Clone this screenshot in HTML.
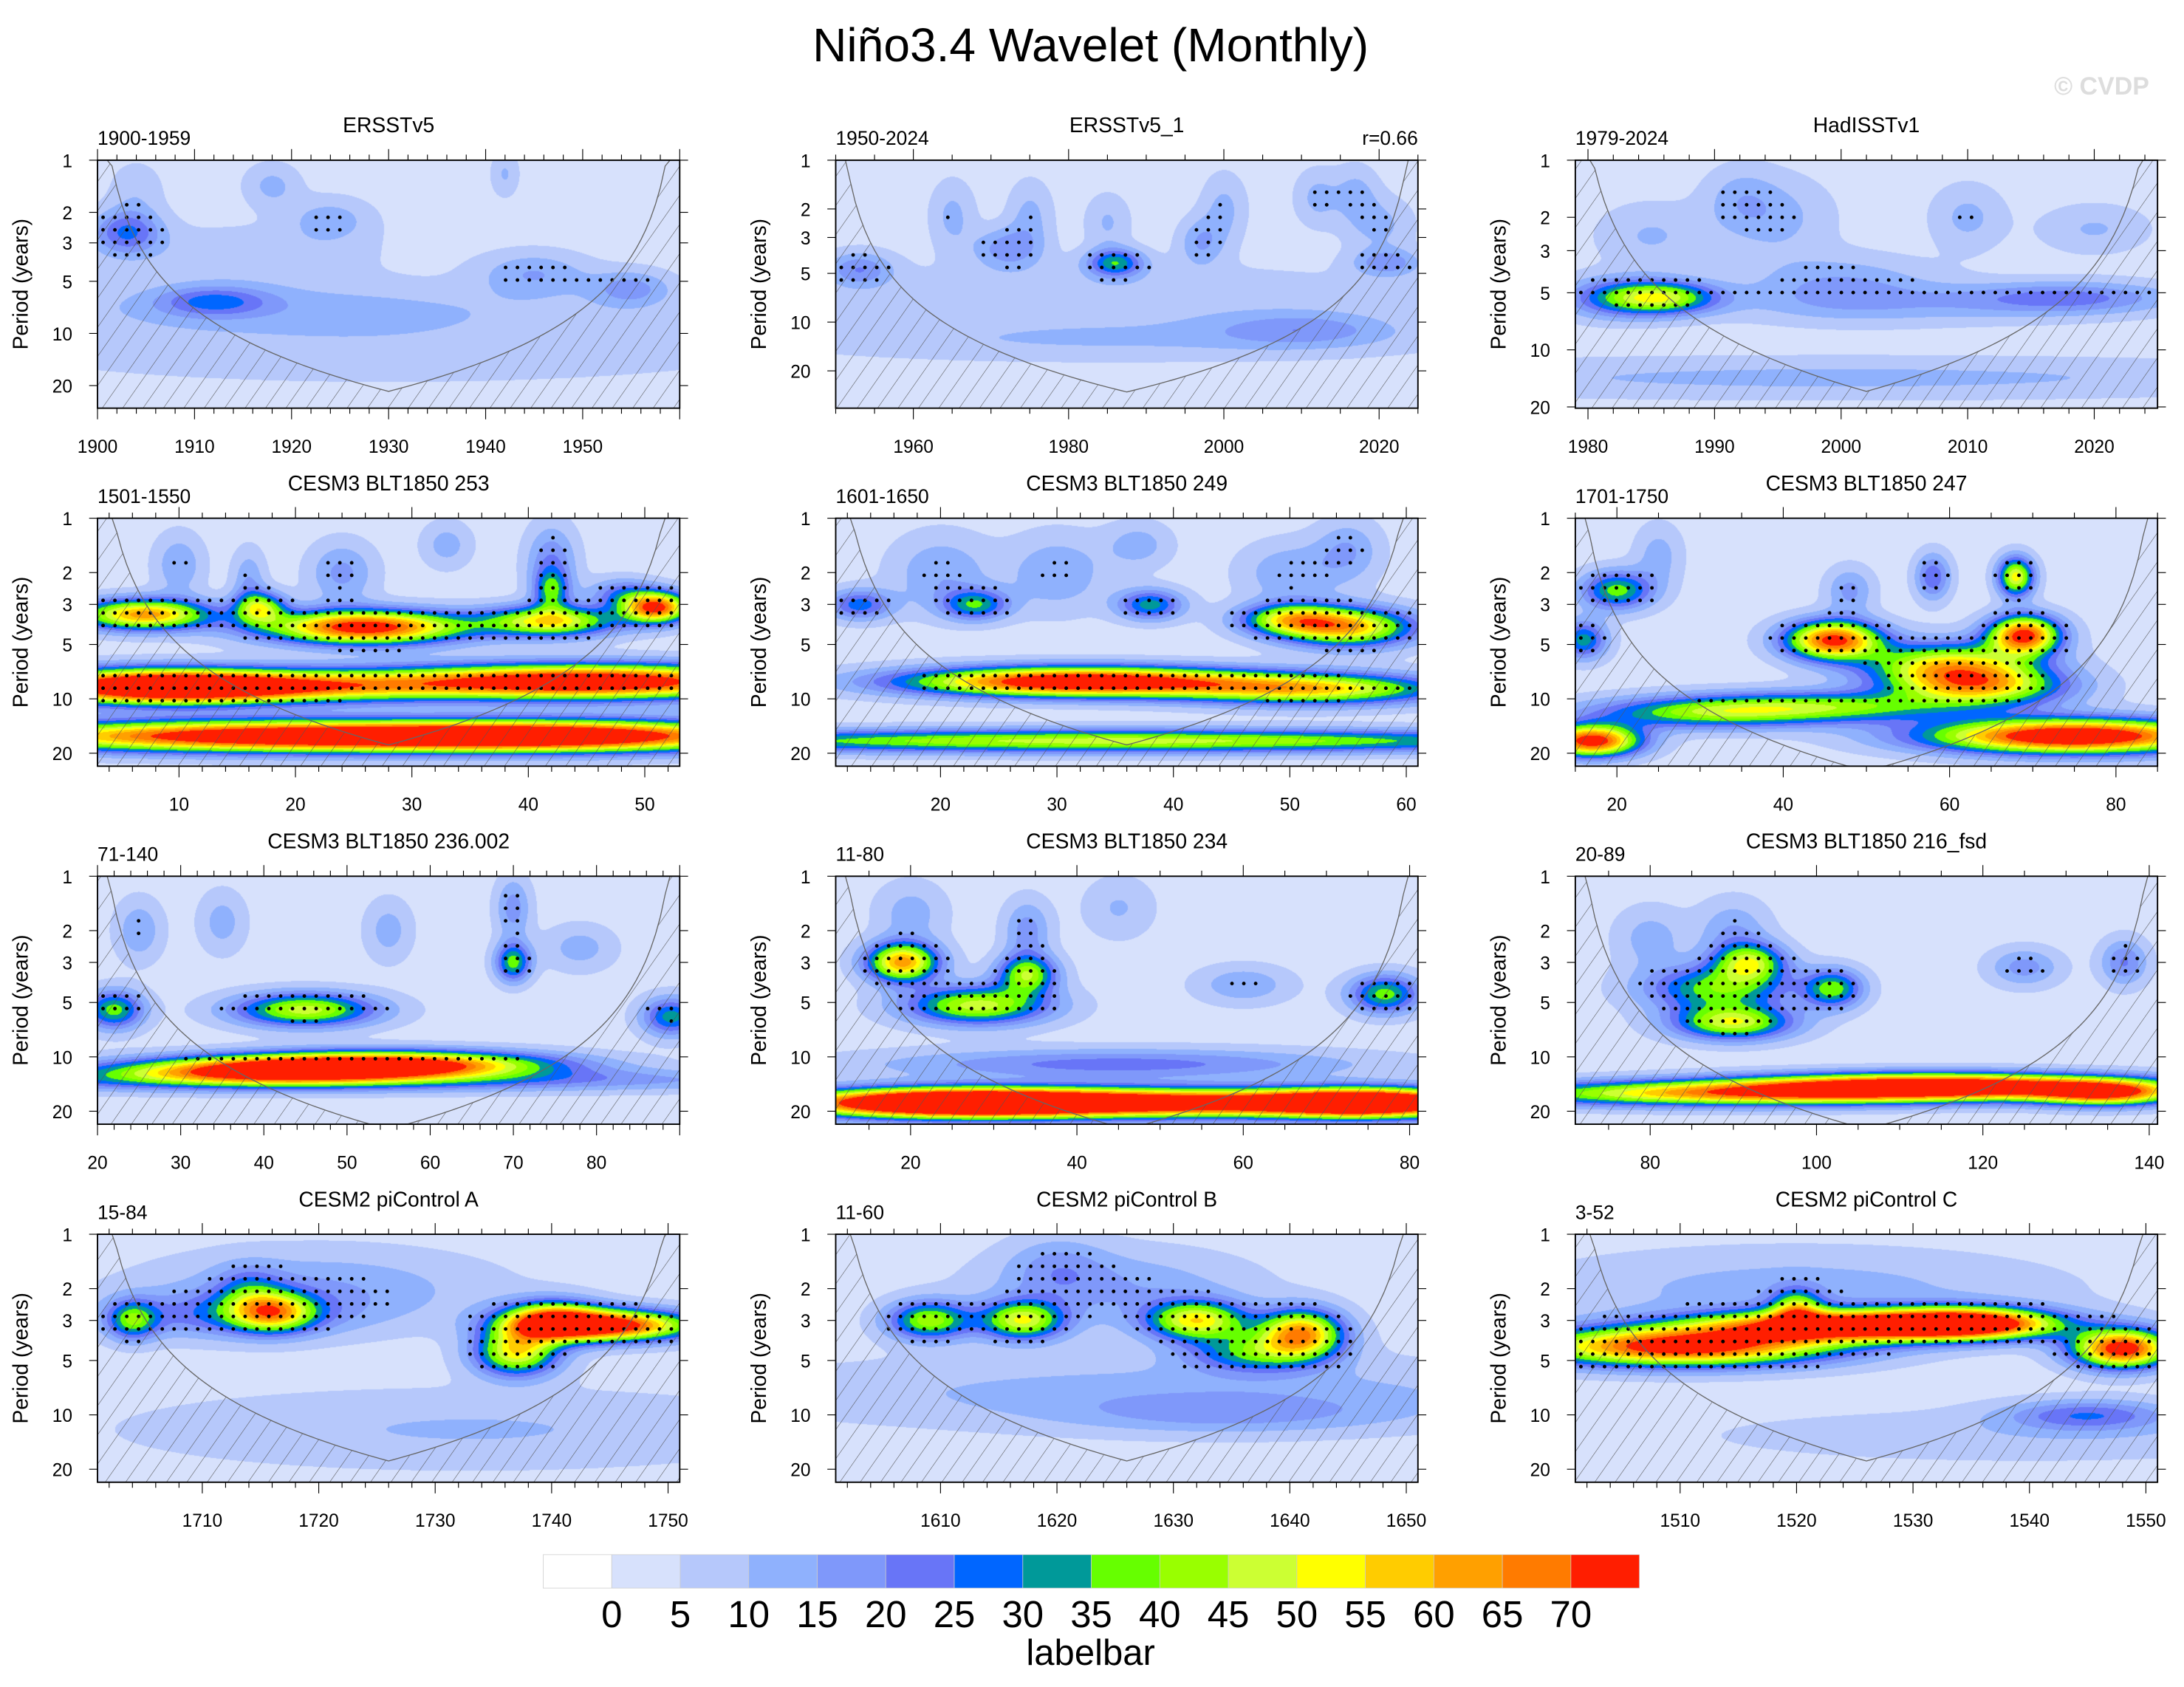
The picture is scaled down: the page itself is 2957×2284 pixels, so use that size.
<!DOCTYPE html>
<html><head><meta charset="utf-8">
<style>
html,body{margin:0;padding:0;background:#fff;}
#root{position:relative;width:2957px;height:2284px;overflow:hidden;background:#fff;}
canvas{position:absolute;}
svg{position:absolute;left:0;top:0;}
</style></head>
<body>
<div id="root">
<svg id="ov" width="2957" height="2284" viewBox="0 0 1568 1211" preserveAspectRatio="none" font-family="'Liberation Sans', sans-serif">
<defs>
<pattern id="hatch" patternUnits="userSpaceOnUse" width="12" height="12" patternTransform="rotate(35)">
<line x1="0" y1="0" x2="0" y2="12" stroke="#555" stroke-width="0.6"/>
</pattern>
</defs>
<text x="783" y="44" font-size="34" text-anchor="middle">Niño3.4 Wavelet (Monthly)</text>
<text x="1543" y="68" font-size="18" font-weight="bold" fill="#ddd" text-anchor="end">© CVDP</text>
</svg>
</div>
<script>
const S = 2957/1568;
const colors = ["#ffffff","#d7e1fc","#b6c8fb","#8fb1fd","#7f98fa","#6875f7","#0066ff","#009999","#66ff00","#99ff00","#ccff33","#ffff00","#ffcc00","#ffa000","#ff7b00","#ff1e00"];
const levelLabels = ["0","5","10","15","20","25","30","35","40","45","50","55","60","65","70"];

const panelTitles = ["ERSSTv5","ERSSTv5_1","HadISSTv1","CESM3 BLT1850 253","CESM3 BLT1850 249","CESM3 BLT1850 247","CESM3 BLT1850 236.002","CESM3 BLT1850 234","CESM3 BLT1850 216_fsd","CESM2 piControl A","CESM2 piControl B","CESM2 piControl C"];
const panelRanges = ["1900-1959","1950-2024","1979-2024","1501-1550","1601-1650","1701-1750","71-140","11-80","20-89","15-84","11-60","3-52"];
const tStart = [1900,1950,1979,3,11,15,20,11,71,1701,1601,1501];
const tEnd   = [1960,2025,2025,53,61,85,90,81,141,1751,1651,1551];
const pMax   = [27,34,20.3,23.6,23.6,23.6,23.6,23.6,23.6,23.6,23.6,23.6];
const majorStep = [10,20,10,10,10,20,10,20,20,10,10,10];
const minorStep = [2,5,2,2,2,5,2,5,5,2,2,2];
const sigThresh = [11,11,11,13,13,13,13,13,13,13,13,13];
const periodTicks = [1,2,3,5,10,20];

// blobs: [time, period, sigmaYears, sigmaOctaves, amplitude]
const blobs1 = [[1903,2.6,2.5,0.3,22],[1924,2.2,3,0.3,10],[1912,6.5,4,0.2,18],[1920,7,20,0.35,8],[1945,4.5,4,0.3,12],[1955,5.5,3,0.25,14],[1930,12,30,0.5,6],[1915,3.5,10,0.4,6],[1918,1.4,2,0.3,9],[1904,1.5,2,0.4,6],[1942,1.2,1,0.3,8]];
const blobs2 = [[1953,4.7,3,0.25,16],[1972,3.5,3,0.3,15],[1986,4.3,2.5,0.2,30],[1997,3.2,2,0.35,12],[2021,4.3,3,0.2,15],[1965,2.2,2,0.5,9],[1975,2.2,2,0.5,9],[1985,2.4,2,0.4,8],[2010,11,8,0.25,12],[1985,7,30,0.5,6],[1985,13,30,0.3,7],[2000,2,2,0.5,9],[2012,1.7,2,0.4,9],[2017,1.6,2,0.4,9],[2020,2.5,3,0.4,9]];
const blobs3 = [[1986,5.3,3,0.2,40],[1982,5.3,3,0.25,20],[2000,4.5,5,0.35,12],[2018,5.3,6,0.2,18],[1985,2.5,3,0.4,8],[2005,5.8,10,0.25,8],[2000,14,30,0.25,9],[2020,2.3,3,0.3,8],[1995,2,3,0.5,9],[2010,2,2,0.4,9],[1992,1.6,2,0.4,8]];
const blobs4 = [[8,8.5,8,0.22,85],[45,8,12,0.22,85],[20,8.5,10,0.2,45],[20,16,18,0.2,85],[45,16,12,0.2,60],[26,4,6,0.22,75],[7,3.4,4,0.2,60],[42,3.7,4,0.2,50],[51,3.1,2,0.2,70],[17,3.1,1.5,0.2,40],[42,2.5,1,0.25,25],[10,1.8,1.5,0.4,12],[16,2.2,1,0.4,12],[24,2,2,0.4,14],[42,1.8,1.5,0.5,18],[33,1.4,1.5,0.3,10],[48,2.6,2,0.2,18]];
const blobs5 = [[32,8,10,0.19,85],[52,8.8,8,0.2,50],[35,17,30,0.15,45],[55,4,4,0.25,55],[50,3.6,3,0.2,40],[23,3,2,0.2,30],[38,3,2,0.2,30],[13,3,2,0.2,25],[20,2,3,0.5,12],[30,2,3,0.5,12],[50,2,3,0.4,12],[55,1.5,2,0.4,12],[37,1.4,2,0.3,10]];
const blobs6 = [[20,2.5,3,0.25,35],[46,4.7,4,0.25,70],[69,4.4,3,0.25,70],[68,2.1,1.5,0.25,50],[60,6.5,7,0.3,50],[64,8.5,7,0.25,45],[45,11,12,0.2,35],[17,17,4,0.2,75],[75,16,12,0.22,85],[30,12,10,0.2,30],[58,2.1,1.5,0.3,22],[16,4.7,2,0.25,30],[25,1.6,2,0.4,10],[48,2.5,2,0.3,14]];
const blobs7 = [[45,5.5,6,0.22,45],[22,5.5,2.5,0.25,35],[55,11,13,0.17,72],[40,12,13,0.17,60],[70,3,1.5,0.25,35],[89,6,2.5,0.25,30],[50,13.5,40,0.15,20],[25,2,2,0.4,12],[70,1.5,1.5,0.4,15],[35,1.8,2,0.4,10],[55,2,2,0.4,10],[78,2.5,3,0.3,10]];
const blobs8 = [[19,3,3,0.25,60],[28,5.2,6,0.25,45],[34,3.5,2.5,0.25,40],[50,18,25,0.18,85],[25,18,12,0.18,80],[75,18,8,0.18,70],[77,4.5,3,0.25,35],[45,11,20,0.2,20],[34,2,2,0.4,15],[60,4,4,0.25,12],[20,1.6,3,0.4,10],[45,1.5,3,0.4,8]];
const blobs9 = [[90,6.5,5,0.22,45],[88,4.2,6,0.3,35],[92,3,3,0.25,40],[102,4.2,2.5,0.25,35],[115,14.5,16,0.16,85],[90,16,20,0.16,55],[135,16,6,0.16,55],[125,3.2,3,0.25,15],[90,2,3,0.4,12],[137,3,2,0.3,18],[80,2.2,3,0.4,10]];
const blobs10 = [[1716,2.7,2.5,0.25,45],[1704,3,1.5,0.25,30],[1737,4.5,2.5,0.3,50],[1745,3.2,5,0.2,75],[1740,3,3,0.25,55],[1712,2.8,7,0.3,18],[1733,12,20,0.5,8],[1720,2,10,0.5,12],[1714,2,2,0.3,14]];
const blobs11 = [[1609,3,2.5,0.25,40],[1617,3,2.5,0.25,45],[1632,3,3,0.25,48],[1641,3.5,2.5,0.3,58],[1637,4.5,4,0.25,30],[1630,7.5,25,0.45,10],[1635,10,10,0.25,10],[1625,2,8,0.5,12],[1620,1.5,3,0.4,10]];
const blobs12 = [[1510,4.2,9,0.25,75],[1525,3.2,9,0.2,80],[1535,3.1,5,0.2,60],[1548,4.3,3,0.25,75],[1520,2.6,1.5,0.25,35],[1545,10,5,0.2,20],[1520,2,15,0.5,10],[1540,13,20,0.35,6]];
const allBlobs = [blobs1,blobs2,blobs3,blobs4,blobs5,blobs6,blobs7,blobs8,blobs9,blobs10,blobs11,blobs12];

const colLeft = [70,600,1131];
const rowTop = [115,372,629,886];
const PW = 418, PH = 178;
const NS = "http://www.w3.org/2000/svg";
const svg = document.getElementById('ov');
const root = document.getElementById('root');

function mk(tag, attrs, parent){
  const e = document.createElementNS(NS, tag);
  for (const k in attrs) e.setAttribute(k, attrs[k]);
  (parent||svg).appendChild(e);
  return e;
}
function field(b, t, oct){
  let v = 2.5;
  for (const q of b){
    const dt = (t-q[0])/q[2], dO = (oct-Math.log2(q[1]))/q[3];
    v += q[4]*Math.exp(-0.5*(dt*dt+dO*dO));
  }
  return v;
}
function colorIdx(v){ return Math.max(0, Math.min(15, Math.floor(v/5)+1)); }

for (let i=0;i<12;i++){
  const x0 = colLeft[i%3], y0 = rowTop[Math.floor(i/3)];
  const t0 = tStart[i], t1 = tEnd[i], pm = pMax[i], b = allBlobs[i];
  const L = Math.log2(pm);
  const xs = t => x0 + (t-t0)/(t1-t0)*PW;
  const ys = p => y0 + Math.log2(p)/L*PH;

  const cv = document.createElement('canvas');
  const W = Math.round(PW*S), H = Math.round(PH*S);
  cv.width = W; cv.height = H;
  cv.style.left = (x0*S)+'px'; cv.style.top = (y0*S)+'px';
  
  
  root.insertBefore(cv, svg);
  const ctx = cv.getContext('2d');
  const img = ctx.createImageData(W,H);
  const rgb = colors.map(c=>[parseInt(c.substr(1,2),16),parseInt(c.substr(3,2),16),parseInt(c.substr(5,2),16)]);
  for (let py=0;py<H;py++){
    const oct = (py+0.5)/H*L;
    for (let px=0;px<W;px++){
      const t = t0 + (px+0.5)/W*(t1-t0);
      const c = rgb[colorIdx(field(b,t,oct))];
      const k = (py*W+px)*4;
      img.data[k]=c[0]; img.data[k+1]=c[1]; img.data[k+2]=c[2]; img.data[k+3]=255;
    }
  }
  ctx.putImageData(img,0,0);

  const g = mk('g', {});
  
  

  for (let sx=x0+4; sx<x0+PW; sx+=8.5){
    for (let sy=y0+5; sy<y0+PH; sy+=9){
      const t = t0 + (sx-x0)/PW*(t1-t0);
      const oct = (sy-y0)/PH*L;
      const v = field(b,t,oct);
      const per = Math.pow(2,oct);
      if (v > sigThresh[i] && per < 11 && (v > 30 || per < 5.5)){
        const d = mk('circle', {cx:sx, cy:sy, r:1.3, fill:'#000'}, g);
        
        
      }
    }
  }

  const N = 120; let pts = [];
  for (let k=0;k<=N;k++){
    const t = t0 + k/N*(t1-t0);
    const d = Math.min(t-t0, t1-t);
    let p = Math.max(1, Math.min(pm, 0.72*d));
    pts.push([xs(t), ys(p)]);
  }
  const curve = pts.map((p,k)=>(k?'L':'M')+p[0].toFixed(2)+','+p[1].toFixed(2)).join(' ');
  const h = mk('path', {d: curve+` L${x0+PW},${y0+PH} L${x0},${y0+PH} Z`, fill:'url(#hatch)'}, g);
  
  
  const cl = mk('path', {d: curve, fill:'none', stroke:'#666', 'stroke-width':0.7}, g);
  
  

  const fr = mk('rect', {x:x0, y:y0, width:PW, height:PH, fill:'none', stroke:'#000', 'stroke-width':1}, g);
  
  

  for (let t=Math.ceil(t0/minorStep[i])*minorStep[i]; t<=t1; t+=minorStep[i]){
    const X = xs(t), major = (t % majorStep[i] === 0);
    const len = major?8:4;
    mk('line', {x1:X, y1:y0+PH, x2:X, y2:y0+PH+len, stroke:'#000','stroke-width':0.6}, g);
    mk('line', {x1:X, y1:y0, x2:X, y2:y0-len, stroke:'#000','stroke-width':0.6}, g);
    if (major && X >= x0-1 && X < x0+PW-1){
      const tl = mk('text', {x:X, y:y0+PH+32, 'font-size':13, 'text-anchor':'middle'}, g);
      tl.textContent = t;
      
      
    }
  }
  for (const p of periodTicks){
    if (p>pm) continue;
    const Y = ys(p);
    mk('line', {x1:x0-6, y1:Y, x2:x0, y2:Y, stroke:'#000','stroke-width':0.6}, g);
    mk('line', {x1:x0+PW, y1:Y, x2:x0+PW+6, y2:Y, stroke:'#000','stroke-width':0.6}, g);
    const yl = mk('text', {x:x0-18, y:Y+5, 'font-size':13, 'text-anchor':'end'}, g);
    yl.textContent = p;
    
    
  }
  const yt = mk('text', {x:0, y:0, 'font-size':15, 'text-anchor':'middle', transform:`translate(${x0-50},${y0+PH/2}) rotate(-90)`}, g);
  yt.textContent = 'Period (years)';
  
  

  const ti = mk('text', {x:x0+PW/2, y:y0-20, 'font-size':15, 'text-anchor':'middle'}, g);
  ti.textContent = panelTitles[i];
  
  
  const rl = mk('text', {x:x0, y:y0-11, 'font-size':14}, g);
  rl.textContent = panelRanges[i];
  
  
  if (i===1){
    const rr = mk('text', {x:x0+PW, y:y0-11, 'font-size':14, 'text-anchor':'end'}, g);
    rr.textContent = 'r=0.66';
    
    
  }
}

const cb = mk('g', {});


const cbx = 390, cbw = 787/16;
colors.forEach((c,k)=>{
  const r = mk('rect', {x:cbx+k*cbw, y:1116, width:cbw, height:24, fill:c, stroke:'#ccc', 'stroke-width':0.4}, cb);
  
  
});
levelLabels.forEach((s,k)=>{
  const t = mk('text', {x:cbx+(k+1)*cbw, y:1168, 'font-size':27, 'text-anchor':'middle'}, cb);
  t.textContent = s;
  
  
});
const lb = mk('text', {x:783, y:1195, 'font-size':26, 'text-anchor':'middle'}, cb);
lb.textContent = 'labelbar';


</script>
</body></html>
